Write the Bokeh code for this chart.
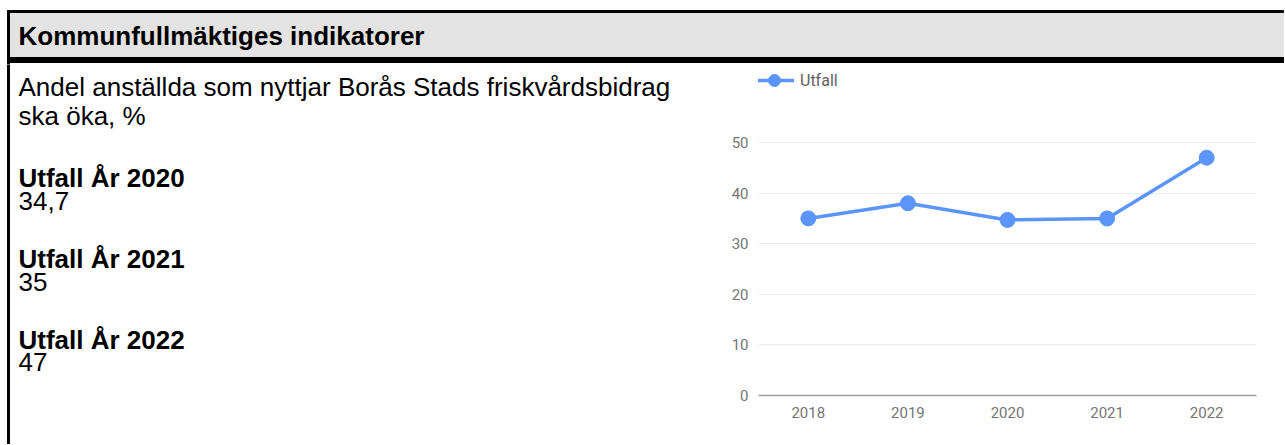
from bokeh.plotting import figure
from bokeh.models import Range1d, FactorRange, FixedTicker, Legend, LegendItem, ColumnDataSource
from bokeh.layouts import column, row
from bokeh.core.properties import value
from bokeh.embed import file_html
from bokeh.resources import INLINE

# ---- data ----
title = "Kommunfullmäktiges indikatorer"
desc_lines = ["Andel anställda som nyttjar Borås Stads friskvårdsbidrag", "ska öka, %"]
result_heads = ["Utfall År 2020", "Utfall År 2021", "Utfall År 2022"]
result_values = ["34,7", "35", "47"]
years = ["2018", "2019", "2020", "2021", "2022"]
utfall = [35, 38, 34.7, 35, 47]
y_ticks = [0, 10, 20, 30, 40, 50]

W, H = 1284, 444
HEAD_H = 64
BODY_H = H - HEAD_H
TEXT_W = 728
CHART_W = W - TEXT_W
FONT = value("Liberation Sans")
FS = "26px"


def canvas(w, h):
    f = figure(width=w, height=h, x_range=Range1d(0, w), y_range=Range1d(h, 0),
               output_backend="svg", toolbar_location=None, min_border=0,
               outline_line_color=None, background_fill_color="white", border_fill_color="white",
               frame_align=False)
    f.axis.visible = False
    f.grid.visible = False
    return f


# ---- header ----
hd = canvas(W, HEAD_H)
hd.quad(left=[9], right=[W], top=[12], bottom=[57], color="#e3e3e3")
hd.quad(left=[7], right=[W - 1], top=[10], bottom=[12], color="black")
hd.quad(left=[7], right=[W], top=[57], bottom=[62], color="black")
hd.quad(left=[7], right=[9], top=[10], bottom=[HEAD_H], color="black")
hd.text(x=[18], y=[35], text=[title], text_font=FONT, text_font_style="bold",
        text_font_size=FS, text_baseline="middle", text_color="black")

# ---- left text ----
tx = canvas(TEXT_W, BODY_H)
tx.quad(left=[7], right=[9], top=[0], bottom=[BODY_H], color="black")
tx.text(x=[18, 18], y=[22, 51], text=desc_lines, text_font=FONT,
        text_font_size=FS, text_baseline="middle", text_color="black")
head_y = [113, 194, 275]
val_y = [136, 217, 297]
tx.text(x=[18] * 3, y=head_y, text=result_heads, text_font=FONT, text_font_style="bold",
        text_font_size=FS, text_baseline="middle", text_color="black")
tx.text(x=[18] * 3, y=val_y, text=result_values, text_font=FONT,
        text_font_size=FS, text_baseline="middle", text_color="black")

# ---- chart ----
# frame spans the whole body height; 0..50 occupies the lower part (room for legend above)
y_top = 50 * (395 - HEAD_H) / (395 - 142)
src = ColumnDataSource(dict(year=years, v=utfall))
ch = figure(width=CHART_W, height=BODY_H, x_range=FactorRange(*years), y_range=Range1d(0, y_top),
            output_backend="svg", toolbar_location=None, frame_align=False,
            min_border_left=28, min_border_right=28, min_border_top=0, min_border_bottom=49,
            outline_line_color=None, background_fill_color="white", border_fill_color="white")
ch.xgrid.visible = False
ch.ygrid.ticker = FixedTicker(ticks=y_ticks)
ch.ygrid.grid_line_color = "#ebebeb"
ch.ygrid.grid_line_width = 1
ch.yaxis.ticker = FixedTicker(ticks=y_ticks)
ch.yaxis.axis_line_color = None
ch.yaxis.major_tick_line_color = None
ch.yaxis.minor_tick_line_color = None
ch.yaxis.major_tick_out = 0
ch.yaxis.major_label_standoff = 10
ch.xaxis.axis_line_color = "#9e9e9e"
ch.xaxis.axis_line_width = 1.5
ch.xaxis.major_tick_line_color = None
ch.xaxis.minor_tick_line_color = None
ch.xaxis.major_tick_out = 0
ch.xaxis.major_label_standoff = 11
for ax in (ch.xaxis[0], ch.yaxis[0]):
    ax.major_label_text_font = "Roboto"
    ax.major_label_text_font_size = "15px"
    ax.major_label_text_color = "#757575"

blue = "#5b95f9"
ln = ch.line(x="year", y="v", source=src, line_color=blue, line_width=3.5)
sc = ch.scatter(x="year", y="v", source=src, size=15, fill_color=blue, line_color=blue)

legend = Legend(items=[LegendItem(label="Utfall", renderers=[ln, sc])], location=(-4, 300),
                padding=0, spacing=0, margin=0, glyph_width=40, glyph_height=30, label_standoff=6,
                border_line_color=None, background_fill_alpha=0,
                label_text_font="Roboto", label_text_font_size="16px", label_text_color="#616161")
ch.add_layout(legend, "center")

layout = column(hd, row(tx, ch, spacing=0), spacing=0)

open("out.html", "w").write(file_html(layout, INLINE))
